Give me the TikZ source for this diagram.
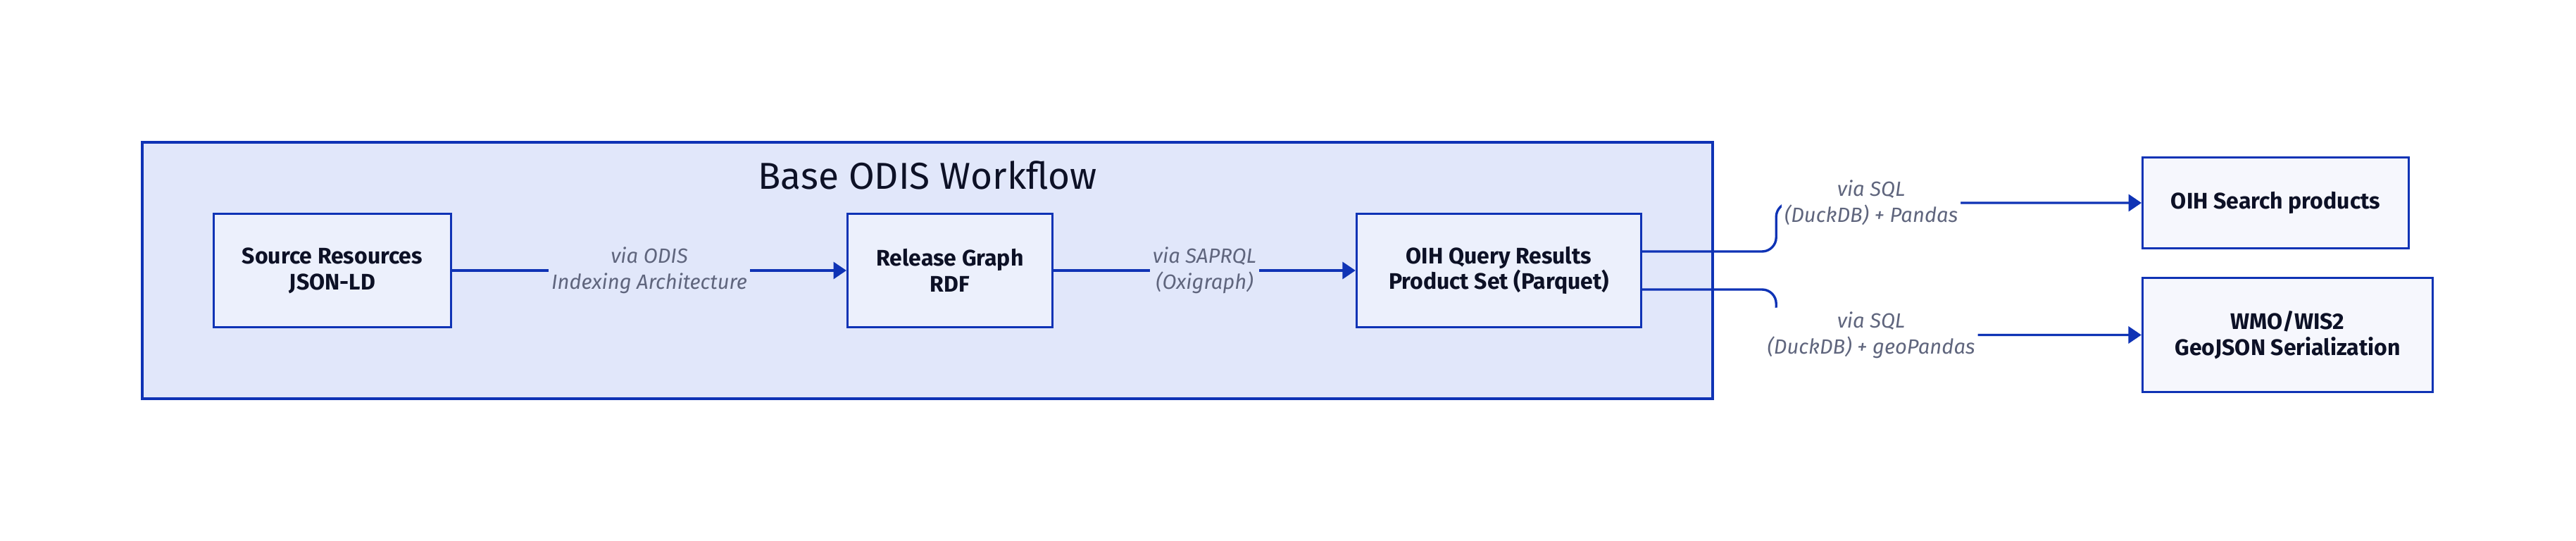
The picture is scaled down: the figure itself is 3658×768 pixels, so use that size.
\documentclass[tikz,border=0pt]{standalone}
\usepackage{fontspec}
\setmainfont{Fira Sans}
\usetikzlibrary{arrows.meta}

\definecolor{edgeblue}{HTML}{0F33B5}
\definecolor{clusterfill}{HTML}{E1E7FA}
\definecolor{innerfill}{HTML}{ECF0FC}
\definecolor{outerfill}{HTML}{F6F7FD}
\definecolor{inktext}{HTML}{0D1126}
\definecolor{labelgray}{HTML}{5F657D}

\begin{document}
\begin{tikzpicture}[x = .25pt, y = -.25pt,
    box/.style = {draw = edgeblue, line width = .85pt, fill = innerfill, align = center, text = inktext, font = \fontsize{8}{9.2}\selectfont\bfseries, inner sep = 0pt},
    outbox/.style = {box, fill = outerfill},
    via/.style = {fill = clusterfill, text = labelgray, align = center, font = \fontsize{7.3}{9.25}\selectfont\itshape, inner xsep = 1pt, inner ysep = 1.5pt},
    flow/.style = {draw = edgeblue, line width = .85pt, -{Triangle[length = 4.6pt, width = 6pt]}}]
	\useasboundingbox (0, 0) rectangle (3658, 768);
	% workflow cluster
	\draw[edgeblue, line width = .85pt, fill = clusterfill] (202, 202) rectangle (2432, 566);
	\node (title) at (1317, 249) [font = \fontsize{13.3}{16}\selectfont, text = inktext] {Base ODIS Workflow};
	\node (src) at (472, 384) [box, minimum width = 84.2pt, minimum height = 40.2pt] {Source Resources\\JSON-LD};
	\node (rel) at (1349, 384) [box, minimum width = 72.7pt, minimum height = 40.2pt] {Release Graph\\RDF};
	\node (qry) at (2128.5, 384) [box, minimum width = 101pt, minimum height = 40.2pt] {OIH Query Results\\Product Set (Parquet)};
	% outputs
	\node (srch) at (3231.5, 288) [outbox, minimum width = 94.4pt, minimum height = 32.2pt] {OIH Search products};
	\node (wmo) at (3248.5, 475.5) [outbox, minimum width = 103pt, minimum height = 40.4pt] {WMO/WIS2\\GeoJSON Serialization};
	\draw[flow] (src) -- (rel) node[via, midway] {via ODIS\\Indexing Architecture};
	\draw[flow] (rel) -- (qry) node[via, midway] {via SAPRQL\\(Oxigraph)};
	\draw[flow, rounded corners = 5pt] ([yshift = 6.75pt]qry.east) -- ++(190, 0) |- (srch.west) node[via, fill = white, pos = .63] {via SQL\\(DuckDB) + Pandas};
	\draw[flow, rounded corners = 5pt] ([yshift = -6.75pt]qry.east) -- ++(190, 0) |- (wmo.west) node[via, fill = white, pos = .63] {via SQL\\(DuckDB) + geoPandas};
\end{tikzpicture}
\end{document}
